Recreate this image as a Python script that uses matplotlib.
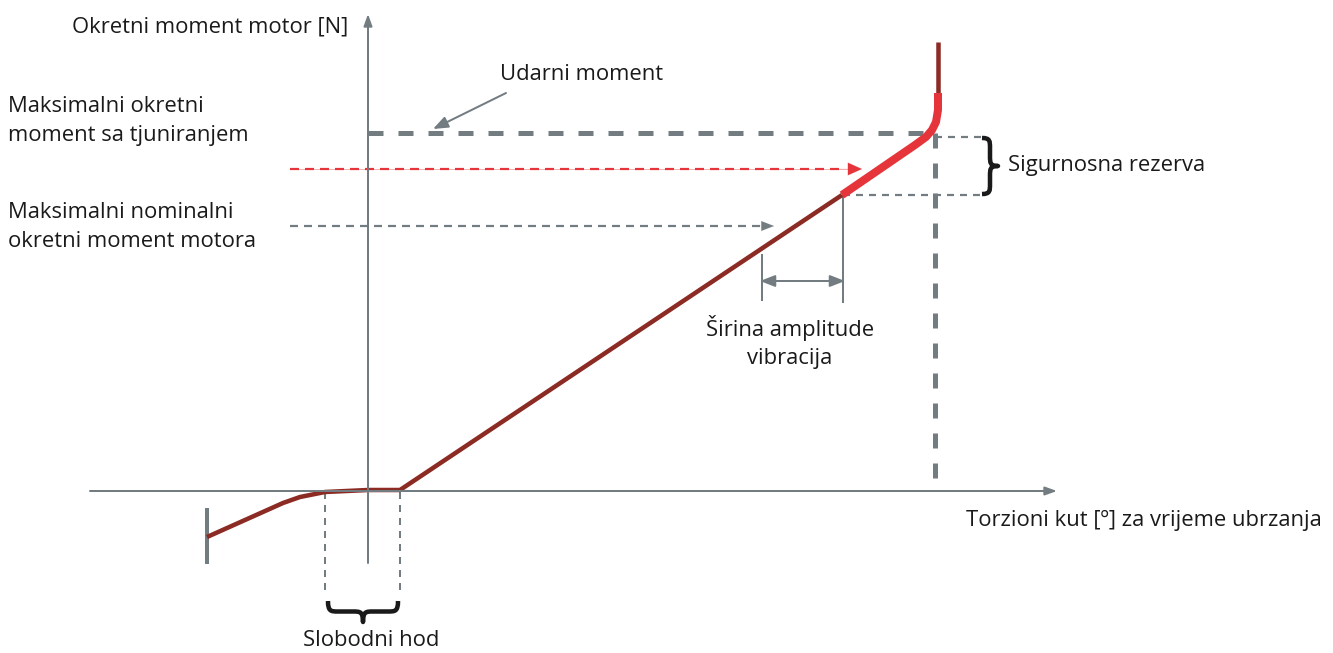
import matplotlib
matplotlib.use("Agg")
import matplotlib.pyplot as plt
from matplotlib.path import Path
from matplotlib.patches import PathPatch
import numpy as np

plt.rcParams['font.family'] = ['Open Sans', 'DejaVu Sans']
plt.rcParams['lines.scale_dashes'] = False

# ---- data (diagram coordinates, origin-free canvas units) ----
curve_x = [207, 245, 283, 300, 325, 368, 400, 842]
curve_y = [537, 520, 503, 497, 492, 490, 490, 195]
red_x = [842, 915, 926, 932, 936, 938, 938]
red_y = [195, 145, 137, 130, 122, 110, 93]
top_x = [938, 938]
top_y = [93, 42]

impact_level = 133
tuned_level = 169
nominal_level = 226
margin_top = 137
margin_bottom = 195
impact_x = 935
free_play = [325, 400]
vib_left, vib_right = 762, 843

labels = {
    'ylabel': "Okretni moment motor [N]",
    'xlabel': "Torzioni kut [º] za vrijeme ubrzanja",
    'tuned': "Maksimalni okretni\nmoment sa tjuniranjem",
    'nominal': "Maksimalni nominalni\nokretni moment motora",
    'impact': "Udarni moment",
    'margin': "Sigurnosna rezerva",
    'vib': "Širina amplitude\nvibracija",
    'free': "Slobodni hod",
}

GRAY = '#737C81'
DARK = '#8C2B24'
RED = '#E5353B'
TXT = '#1a1a1a'

fig = plt.figure(figsize=(13.33, 6.53), dpi=100)
ax = fig.add_axes([0, 0, 1, 1])
ax.set_xlim(0, 1333)
ax.set_ylim(653, 0)
ax.axis('off')

px = 0.72  # points per pixel

# axes with arrows
ax.annotate('', xy=(1057, 491), xytext=(90, 491),
            arrowprops=dict(arrowstyle='-|>,head_length=0.7,head_width=0.25', color=GRAY, lw=2 * px, shrinkA=0, shrinkB=0))
ax.annotate('', xy=(368, 14), xytext=(368, 563),
            arrowprops=dict(arrowstyle='-|>,head_length=0.7,head_width=0.25', color=GRAY, lw=2 * px, shrinkA=0, shrinkB=0))

# left stop bar
ax.plot([207, 207], [508, 564], color=GRAY, lw=4 * px, solid_capstyle='butt')

# impact moment thick dashed
ax.plot([368, impact_x], [impact_level, impact_level], color=GRAY, lw=5 * px,
        dashes=(15 * px, 15 * px), solid_capstyle='butt')
ax.plot([impact_x, impact_x], [impact_level, 481], color=GRAY, lw=5 * px,
        dashes=(15 * px, 15 * px), solid_capstyle='butt')

# tuned (red dashed arrow)
ax.plot([290, 850], [tuned_level, tuned_level], color='#F6B3B5', lw=1 * px)
ax.plot([290, 845], [tuned_level, tuned_level], color=RED, lw=2.2 * px, dashes=(9 * px, 6 * px))
ax.annotate('', xy=(862, tuned_level), xytext=(840, tuned_level),
            arrowprops=dict(arrowstyle='-|>,head_length=1.0,head_width=0.45', color=RED, lw=0.1, shrinkA=0, shrinkB=0))

# nominal (gray dashed arrow)
ax.plot([290, 760], [nominal_level, nominal_level], color=GRAY, lw=2.2 * px, dashes=(8 * px, 6 * px))
ax.annotate('', xy=(774, nominal_level), xytext=(755, nominal_level),
            arrowprops=dict(arrowstyle='-|>,head_length=0.9,head_width=0.35', color=GRAY, lw=0.1, shrinkA=0, shrinkB=0))

# safety margin dashed lines
ax.plot([impact_x, 982], [margin_top, margin_top], color=GRAY, lw=2.2 * px, dashes=(7 * px, 6 * px))
ax.plot([vib_right, 982], [margin_bottom, margin_bottom], color=GRAY, lw=2.2 * px, dashes=(7 * px, 6 * px))

# free play dashed verticals
for xf in free_play:
    ax.plot([xf, xf], [492, 590], color=GRAY, lw=2 * px, dashes=(7 * px, 6 * px))

# vibration markers
ax.plot([vib_left, vib_left], [255, 300], color=GRAY, lw=2 * px)
ax.plot([vib_right, vib_right], [195, 302], color=GRAY, lw=2 * px)
ax.annotate('', xy=(760, 281), xytext=(845, 281),
            arrowprops=dict(arrowstyle='<|-|>,head_length=0.9,head_width=0.35', color=GRAY, lw=2 * px, shrinkA=0, shrinkB=0))

# impact label arrow
ax.annotate('', xy=(433, 129), xytext=(506, 93),
            arrowprops=dict(arrowstyle='-|>,head_length=0.9,head_width=0.35', color=GRAY, lw=2 * px, shrinkA=0, shrinkB=0))

# curve
ax.plot(curve_x, curve_y, color=DARK, lw=4.5 * px, solid_capstyle='butt', solid_joinstyle='round')
ax.plot(top_x, top_y, color=DARK, lw=4.5 * px, solid_capstyle='butt')
ax.plot(red_x, red_y, color=RED, lw=8 * px, solid_capstyle='butt', solid_joinstyle='round')


def hbrace(x0, x1, y, d, **kw):
    xm = (x0 + x1) / 2
    h = d / 2
    verts = [(x0, y), (x0, y + h), (x0 + 3, y + h), (x0 + 10, y + h),
             (xm - 10, y + h), (xm - 3, y + h), (xm, y + h), (xm, y + d),
             (xm, y + h), (xm + 3, y + h), (xm + 10, y + h),
             (x1 - 10, y + h), (x1 - 3, y + h), (x1, y + h), (x1, y)]
    codes = [Path.MOVETO, Path.CURVE4, Path.CURVE4, Path.CURVE4,
             Path.LINETO, Path.CURVE4, Path.CURVE4, Path.CURVE4,
             Path.CURVE4, Path.CURVE4, Path.CURVE4,
             Path.LINETO, Path.CURVE4, Path.CURVE4, Path.CURVE4]
    ax.add_patch(PathPatch(Path(verts, codes), fill=False, **kw))


def vbrace(y0, y1, x, d, **kw):
    ym = (y0 + y1) / 2
    h = d / 2
    verts = [(x, y0), (x + h, y0), (x + h, y0 + 3), (x + h, y0 + 10),
             (x + h, ym - 10), (x + h, ym - 3), (x + h, ym), (x + d, ym),
             (x + h, ym), (x + h, ym + 3), (x + h, ym + 10),
             (x + h, y1 - 10), (x + h, y1 - 3), (x + h, y1), (x, y1)]
    codes = [Path.MOVETO, Path.CURVE4, Path.CURVE4, Path.CURVE4,
             Path.LINETO, Path.CURVE4, Path.CURVE4, Path.CURVE4,
             Path.CURVE4, Path.CURVE4, Path.CURVE4,
             Path.LINETO, Path.CURVE4, Path.CURVE4, Path.CURVE4]
    ax.add_patch(PathPatch(Path(verts, codes), fill=False, **kw))


hbrace(free_play[0] + 3, free_play[1] - 2, 601, 21, color=TXT, lw=4.5 * px, capstyle='butt', joinstyle='round')
vbrace(margin_top + 1, margin_bottom - 1, 982, 16, color=TXT, lw=4.5 * px, capstyle='butt', joinstyle='round')

fs = 15.8
ls = 1.52
ax.text(72, 27, labels['ylabel'], fontsize=fs, color=TXT, va='center', ha='left')
ax.text(8, 121, labels['tuned'], fontsize=fs, color=TXT, va='center', ha='left', linespacing=ls)
ax.text(8, 227, labels['nominal'], fontsize=fs, color=TXT, va='center', ha='left', linespacing=ls)
ax.text(582, 75, labels['impact'], fontsize=fs, color=TXT, va='center', ha='center')
ax.text(1008, 166, labels['margin'], fontsize=fs, color=TXT, va='center', ha='left')
ax.text(790, 342, labels['vib'], fontsize=fs, color=TXT, va='center', ha='center', linespacing=1.42)
ax.text(1322, 520, labels['xlabel'], fontsize=fs, color=TXT, va='center', ha='right')
ax.text(371, 641, labels['free'], fontsize=fs, color=TXT, va='center', ha='center')

fig.savefig('out.png', dpi=100, facecolor='white')
